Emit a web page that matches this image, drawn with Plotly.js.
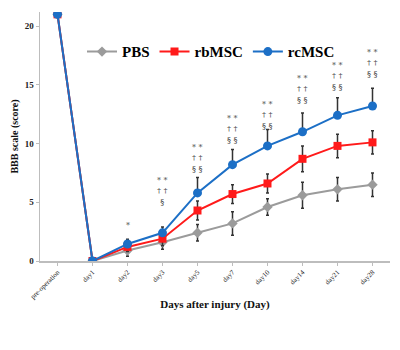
<!DOCTYPE html>
<html>
<head>
<meta charset="utf-8">
<script src="https://cdn.plot.ly/plotly-3.0.1.min.js"></script>
<style>html,body{margin:0;padding:0;background:#fff;}#chart{width:400px;height:350px;}</style>
</head>
<body>
<div id="chart"></div>
<script>
var days = ["pre-operation","day1","day2","day3","day5","day7","day10","day14","day21","day28"];
var pbs   = [21, 0, 0.9, 1.6, 2.4, 3.2, 4.6, 5.6, 6.1, 6.5];
var pbsErr = [0, 0, 0.5, 0.6, 0.7, 1.0, 0.7, 1.1, 1.0, 1.0];
var rbmsc = [21, 0, 1.2, 1.9, 4.3, 5.7, 6.6, 8.7, 9.8, 10.1];
var rbmscErr = [0, 0, 0.4, 0.6, 0.8, 0.8, 0.8, 1.1, 1.0, 1.0];
var rcmsc = [21, 0, 1.45, 2.4, 5.8, 8.2, 9.8, 11.0, 12.4, 13.2];
var rcmscErr = [0, 0, 0.4, 0.5, 1.3, 1.3, 1.4, 1.6, 1.5, 1.5];
var sigText = ["", "", "*", "* *<br>† †<br>§", "* *<br>† †<br>§ §", "* *<br>† †<br>§ §", "* *<br>† †<br>§ §", "* *<br>† †<br>§ §", "* *<br>† †<br>§ §", "* *<br>† †<br>§ §"];
var sigY = [null, null, 2.5, 4.5, 7.3, 9.8, 11.0, 13.2, 14.3, 15.4];

var font = "Liberation Serif, Times New Roman, serif";
var errStyle = function(arr, sym){ return {type:"data", array:arr, symmetric:sym, arrayminus: sym?undefined:arr.map(function(){return 0;}), color:"#333", thickness:1.5, width:1.5}; };

var traces = [
  {x:days, y:pbs, name:"PBS", mode:"lines+markers", type:"scatter",
   line:{color:"#9b9b9b", width:2}, marker:{symbol:"diamond", size:8, color:"#9b9b9b"},
   error_y:errStyle(pbsErr, true)},
  {x:days, y:rbmsc, name:"rbMSC", mode:"lines+markers", type:"scatter",
   line:{color:"#ff1a1a", width:2}, marker:{symbol:"square", size:8, color:"#ff1a1a"},
   error_y:errStyle(rbmscErr, true)},
  {x:days, y:rcmsc, name:"rcMSC", mode:"lines+markers", type:"scatter",
   line:{color:"#1c6fc6", width:2}, marker:{symbol:"circle", size:9, color:"#1c6fc6"},
   error_y:errStyle(rcmscErr, false)}
];

var annotations = [];
for (var i = 0; i < days.length; i++) {
  if (!sigText[i]) continue;
  annotations.push({x:days[i], y:sigY[i], xref:"x", yref:"y", text:sigText[i], showarrow:false,
    yanchor:"bottom", font:{family:"DejaVu Serif, serif", size:8, color:"#444"}});
}

var layout = {
  width:400, height:350,
  margin:{l:40, r:10, t:12, b:89},
  paper_bgcolor:"#fff", plot_bgcolor:"#fff",
  showlegend:true,
  legend:{orientation:"h", x:0.12, y:0.84, xanchor:"left", yanchor:"middle",
    font:{family:font, size:15, color:"#000", weight:"bold"}, bgcolor:"rgba(0,0,0,0)", itemwidth:30, tracegroupgap:0},
  xaxis:{type:"category", range:[-0.5, 9.5], showgrid:false, zeroline:false,
    showline:true, linecolor:"#bdbdbd", linewidth:1.5, ticks:"outside", ticklen:3, tickcolor:"#bdbdbd",
    tickangle:-45, tickfont:{family:font, size:7, color:"#222"},
    title:{text:"<b>Days after injury (Day)</b>", font:{family:font, size:11, color:"#111"}, standoff:0}},
  yaxis:{range:[0, 21.2], tickvals:[0,5,10,15,20], showgrid:false, zeroline:false,
    showline:true, linecolor:"#bdbdbd", linewidth:1.5, ticks:"outside", ticklen:3, tickcolor:"#bdbdbd",
    tickfont:{family:font, size:9, color:"#222", weight:"bold"},
    title:{text:"<b>BBB scale (score)</b>", font:{family:font, size:10, color:"#111"}, standoff:4}},
  annotations:annotations
};

Plotly.newPlot("chart", traces, layout, {displayModeBar:false, staticPlot:true});
</script>
</body>
</html>
